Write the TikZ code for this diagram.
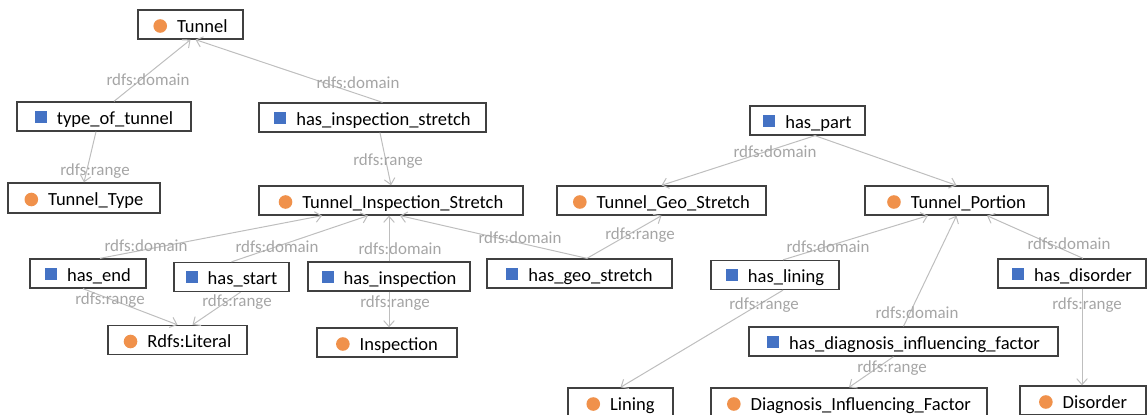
\documentclass[tikz,border=0pt]{standalone}
\usepackage{fontspec}
\setmainfont{Carlito}
\usetikzlibrary{arrows.meta}

\definecolor{boxline}{RGB}{64,64,64}
\definecolor{edgeline}{RGB}{190,190,190}
\definecolor{labeltext}{RGB}{165,165,165}
\definecolor{classdot}{RGB}{240,145,75}
\definecolor{propsquare}{RGB}{68,114,196}

\newcommand\boxfont{\fontsize{13.9pt}{16pt}\selectfont}
\newcommand\edgefont{\fontsize{12.7pt}{15pt}\selectfont}
% class marker (orange dot) and property marker (blue square)
\newcommand\classmark{\textcolor{classdot}{\raisebox{-0.6pt}{\tikz\fill (0,0) circle (5.1pt);}}\hspace{7.5pt}}
\newcommand\propmark{\textcolor{propsquare}{\raisebox{1.1pt}{\rule{9pt}{9pt}}}\hspace{7.5pt}}

\tikzset{
  termbox/.style={draw=boxline, line width=1pt, fill=white, inner sep=0pt,
    font=\boxfont, text height=12pt, text depth=0.75pt, minimum height=21.75pt},
  boxw/.style={minimum width=#1*0.75pt},
  boxh/.style={minimum height=#1*0.75pt},
  rel/.style={draw=edgeline, line width=0.75pt, -{Straight Barb[length=4.5pt,width=8pt]}},
  rellabel/.style={font=\edgefont, text=labeltext, inner sep=0pt, text height=9pt, text depth=0pt}
}

\begin{document}
\begin{tikzpicture}[x=0.75pt,y=-0.75pt]
\path[use as bounding box] (0,0) rectangle (1148,414);
\clip (0,0) rectangle (1148,414);

% ---- terms ----
\node[termbox, boxw=105] (tunnel) at (190.5,24.5) {\classmark Tunnel};
\node[termbox, boxw=174] (tot) at (104,116.5) {\propmark type\_of\_tunnel};
\node[termbox, boxw=227] (his) at (372.5,117.5) {\propmark has\_inspection\_stretch};
\node[termbox, boxw=152, boxh=30] (ttype) at (84,198) {\classmark Tunnel\_Type};
\node[termbox, boxw=264] (tis) at (391,200.5) {\classmark Tunnel\_Inspection\_Stretch};
\node[termbox, boxw=115] (hpart) at (807.5,120.5) {\propmark has\_part};
\node[termbox, boxw=209] (tgs) at (661.5,200.5) {\classmark Tunnel\_Geo\_Stretch};
\node[termbox, boxw=183] (tp) at (956.5,200.5) {\classmark Tunnel\_Portion};
\node[termbox, boxw=116] (hend) at (88,273.5) {\propmark has\_end};
\node[termbox, boxw=115] (hstart) at (231.5,277) {\propmark has\_start};
\node[termbox, boxw=162] (hinsp) at (389,276.5) {\propmark has\_inspection};
\node[termbox, boxw=185] (hgs) at (579.5,273.5) {\propmark has\_geo\_stretch};
\node[termbox, boxw=128] (hlin) at (775,275) {\propmark has\_lining};
\node[termbox, boxw=148] (hdis) at (1072,273.5) {\propmark has\_disorder};
\node[termbox, boxw=139] (lit) at (177.5,340) {\classmark Rdfs:Literal};
\node[termbox, boxw=140] (insp) at (387,342.5) {\classmark Inspection};
\node[termbox, boxw=309] (hdif) at (903.5,341.5) {\propmark has\_diagnosis\_influencing\_factor};
\node[termbox, boxw=105] (lining) at (620.5,402.5) {\classmark Lining};
\node[termbox, boxw=276] (dif) at (849,402.5) {\classmark Diagnosis\_Influencing\_Factor};
\node[termbox, boxw=126] (disorder) at (1083,400.5) {\classmark Disorder};

% ---- relations ----
\draw[rel] ([xshift=7.5pt]tot.north) -- (tunnel.south);
\draw[rel] ([xshift=7.5pt]his.north) -- ([xshift=3.75pt]tunnel.south);
\draw[rel] ([xshift=-6pt]tot.south) -- (ttype.north);
\draw[rel] ([xshift=5.6pt]his.south) -- (tis.north);
\draw[rel] ([xshift=9pt]hend.north) -- ([xshift=-51.75pt]tis.south);
\draw[rel] (hstart.north) -- ([xshift=-17.25pt]tis.south);
\draw[rel] (hinsp.north) -- (hinsp.north |- tis.south);
\draw[rel] ([xshift=5.6pt]hgs.north) -- ([xshift=6.75pt]tis.south);
\draw[rel] ([xshift=5.6pt]hgs.north) -- (tgs.south);
\draw[rel] ([xshift=-3.75pt]hend.south) -- (lit.north);
\draw[rel] ([xshift=6.75pt]hstart.south) -- ([xshift=11.25pt]lit.north);
\draw[rel] (hinsp.south) -- (hinsp.south |- insp.north);
\draw[rel] ([xshift=5.6pt]hpart.south) -- (tgs.north);
\draw[rel] ([xshift=5.6pt]hpart.south) -- (tp.north);
\draw[rel] ([xshift=6pt]hlin.north) -- ([xshift=-21.4pt]tp.south);
\draw[rel] (hdif.north) -- (tp.south);
\draw[rel] ([xshift=8.25pt]hdis.north) -- ([xshift=22.9pt]tp.south);
\draw[rel] ([xshift=6pt]hlin.south) -- (lining.north);
\draw[rel] ([xshift=-7.5pt]hdif.south) -- (dif.north);
\draw[rel] ([xshift=7.5pt]hdis.south) -- ([xshift=7.5pt]hdis.south |- disorder.north);

% ---- relation labels ----
\node[rellabel] (l1) at (148,79) {rdfs:domain};
\node[rellabel] (l2) at (358,82) {rdfs:domain};
\node[rellabel] (l3) at (95,169) {rdfs:range};
\node[rellabel] (l4) at (388,159) {rdfs:range};
\node[rellabel] (l5) at (146,245) {rdfs:domain};
\node[rellabel] (l6) at (277,246) {rdfs:domain};
\node[rellabel] (l7) at (400,248) {rdfs:domain};
\node[rellabel] (l8) at (520,237) {rdfs:domain};
\node[rellabel] (l9) at (640,233) {rdfs:range};
\node[rellabel] (l10) at (110,298) {rdfs:range};
\node[rellabel] (l11) at (237,300) {rdfs:range};
\node[rellabel] (l12) at (395,301) {rdfs:range};
\node[rellabel] (l13) at (775,151) {rdfs:domain};
\node[rellabel] (l15) at (828,246) {rdfs:domain};
\node[rellabel] (l16) at (917,312) {rdfs:domain};
\node[rellabel] (l17) at (1069,243) {rdfs:domain};
\node[rellabel] (l18) at (764,303) {rdfs:range};
\node[rellabel] (l19) at (892,366) {rdfs:range};
\node[rellabel] (l20) at (1087,303) {rdfs:range};
\end{tikzpicture}
\end{document}
